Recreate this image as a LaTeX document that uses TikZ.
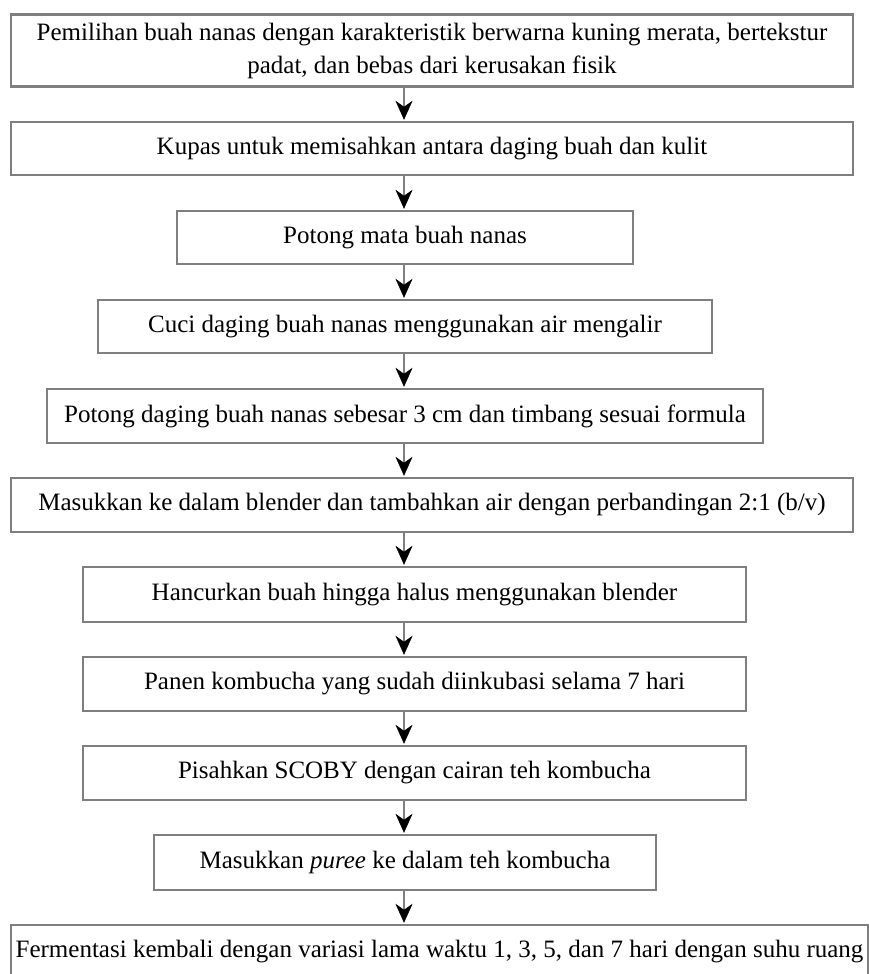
\documentclass[tikz,border=0pt]{standalone}
\usepackage{fontspec}
\setmainfont{Liberation Serif}
\usetikzlibrary{arrows.meta}
\definecolor{boxgray}{HTML}{7F7F7F}
\tikzset{
  stepbox/.style={draw=boxgray, line width=2.4pt, rectangle, inner sep=0pt,
    font=\fontsize{25}{33}\selectfont, text=black, align=center, fill=white},
  flowarrow/.style={draw=boxgray, line width=2pt,
    -{Stealth[length=19pt, width=17pt, inset=6pt, color=black, fill=black, line width=0.5pt]}, shorten >=1pt}
}
\begin{document}
\begin{tikzpicture}[x=1pt,y=-1pt]
\useasboundingbox (0,0) rectangle (869,974);
\clip (0,0) rectangle (869,974);
\fill[white] (0,0) rectangle (869,974);
\coordinate (ax) at (404,0);
\node[stepbox, minimum width=842pt, minimum height=72pt] (b1) at (432,50.5)
  {Pemilihan buah nanas dengan karakteristik berwarna kuning merata, bertekstur\\padat, dan bebas dari kerusakan fisik};
\node[stepbox, minimum width=842pt, minimum height=53pt] (b2) at (432,148.5)
  {Kupas untuk memisahkan antara daging buah dan kulit};
\node[stepbox, minimum width=456pt, minimum height=53pt] (b3) at (405,237.5)
  {Potong mata buah nanas};
\node[stepbox, minimum width=614pt, minimum height=53pt] (b4) at (405,326.5)
  {Cuci daging buah nanas menggunakan air mengalir};
\node[stepbox, minimum width=716pt, minimum height=54pt] (b5) at (405,416)
  {Potong daging buah nanas sebesar 3 cm dan timbang sesuai formula};
\node[stepbox, minimum width=842pt, minimum height=54pt] (b6) at (432,505)
  {Masukkan ke dalam blender dan tambahkan air dengan perbandingan 2:1 (b/v)};
\node[stepbox, minimum width=663pt, minimum height=55pt] (b7) at (414.5,594.5)
  {Hancurkan buah hingga halus menggunakan blender};
\node[stepbox, minimum width=663pt, minimum height=54pt] (b8) at (414.5,684)
  {Panen kombucha yang sudah diinkubasi selama 7 hari};
\node[stepbox, minimum width=663pt, minimum height=54pt] (b9) at (414.5,773)
  {Pisahkan SCOBY dengan cairan teh kombucha};
\node[stepbox, minimum width=502pt, minimum height=55pt] (b10) at (405,862.5)
  {Masukkan \textit{puree} ke dalam teh kombucha};
\node[stepbox, minimum width=857pt, minimum height=54pt] (b11) at (439.5,952)
  {Fermentasi kembali dengan variasi lama waktu 1, 3, 5, dan 7 hari dengan suhu ruang};
\foreach \a/\b in {b1/b2,b2/b3,b3/b4,b4/b5,b5/b6,b6/b7,b7/b8,b8/b9,b9/b10,b10/b11}
  \draw[flowarrow] (\a.south -| ax) -- (\b.north -| ax);
\end{tikzpicture}
\end{document}
